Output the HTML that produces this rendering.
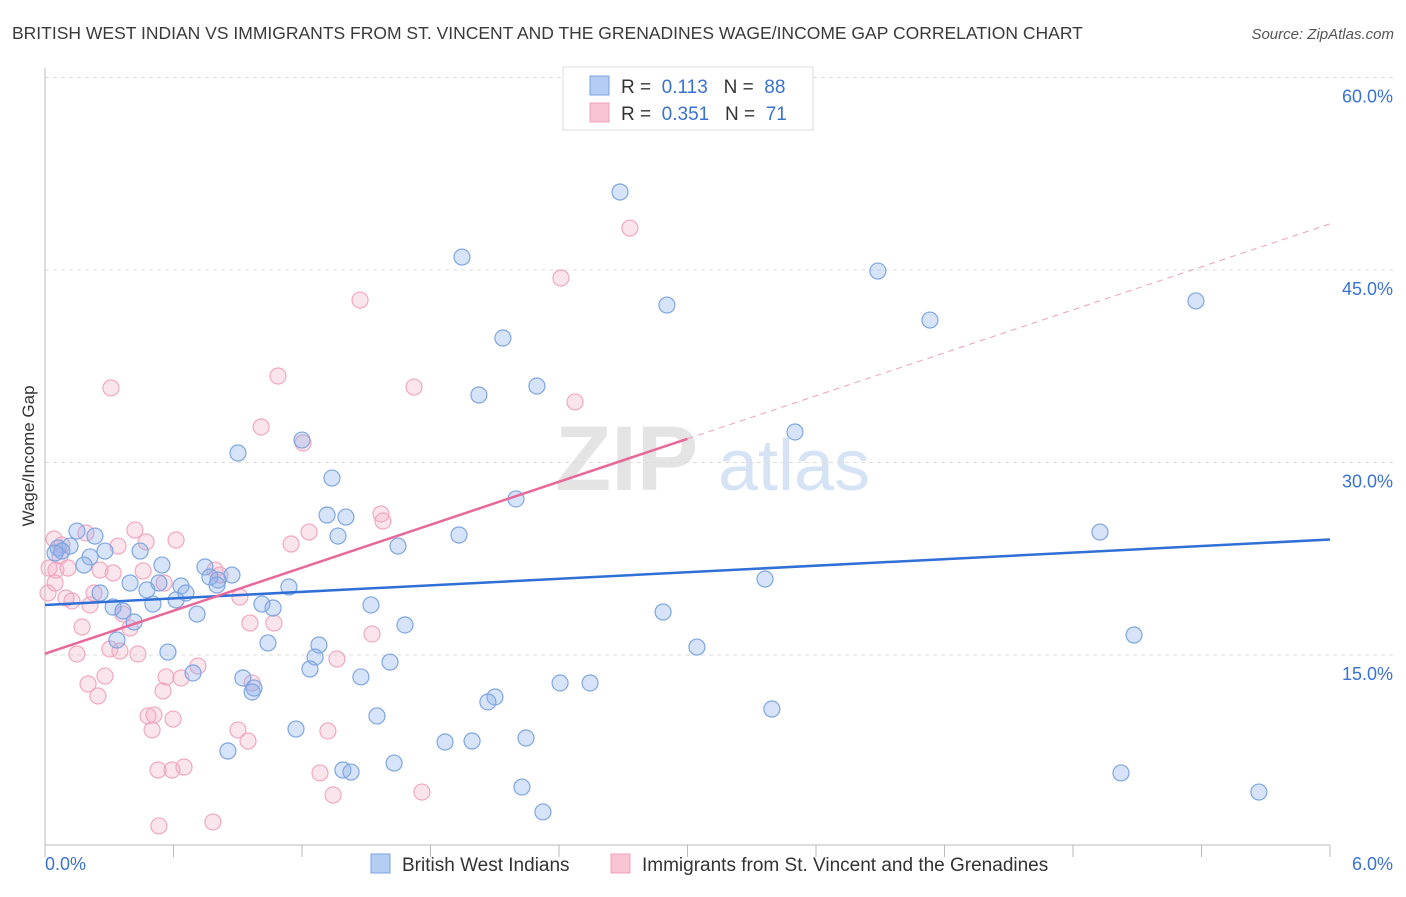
<!DOCTYPE html>
<html><head><meta charset="utf-8"><style>
body{margin:0;background:#fff;font-family:"Liberation Sans",sans-serif;}
svg text{font-family:"Liberation Sans",sans-serif;}
</style></head><body>
<svg id="chart" width="1406" height="892" xmlns="http://www.w3.org/2000/svg">
<text x="12" y="39" font-size="17.5" fill="#3a3a3a">BRITISH WEST INDIAN VS IMMIGRANTS FROM ST. VINCENT AND THE GRENADINES WAGE/INCOME GAP CORRELATION CHART</text>
<text x="1394" y="39" font-size="15" fill="#555" font-style="italic" text-anchor="end">Source: ZipAtlas.com</text>
<g>
<text x="555" y="490" font-size="92" fill="#e4e4e4" font-family="Liberation Serif,serif" font-weight="bold">ZIP</text>
<text x="718" y="490" font-size="72" fill="#d6e3f5">atlas</text>
</g>
<g id="grid"></g>
<g id="axes"></g>
<text transform="translate(34,456) rotate(-90)" font-size="17" fill="#333" text-anchor="middle">Wage/Income Gap</text>
<g id="points"></g>
<g id="lines"></g>
<g>
<rect x="563" y="67" width="250" height="63" fill="#fff" stroke="#ddd"/>
<rect x="590" y="76" width="19" height="19" fill="#b5cdf2" stroke="#7aa3e0"/>
<rect x="590" y="103" width="19" height="19" fill="#f9c5d5" stroke="#f0a0bc"/>
<text x="621" y="93" font-size="19" fill="#333">R = <tspan fill="#3a72d2">&#160;0.113</tspan>&#160;&#160;&#160;N = <tspan fill="#3a72d2">&#160;88</tspan></text>
<text x="621" y="120" font-size="19" fill="#333">R = <tspan fill="#3a72d2">&#160;0.351</tspan>&#160;&#160;&#160;N = <tspan fill="#3a72d2">&#160;71</tspan></text>
</g>
<g>
<rect x="371" y="854" width="19" height="19" fill="#b5cdf2" stroke="#7aa3e0"/>
<text x="402" y="871" font-size="19" fill="#333">British West Indians</text>
<rect x="611" y="854" width="19" height="19" fill="#f9c5d5" stroke="#f0a0bc"/>
<text x="642" y="871" font-size="19" fill="#333">Immigrants from St. Vincent and the Grenadines</text>
</g>
</svg>
<script>
const xTicks=[0,0.6,1.2,1.8,2.4,3.0,3.6,4.2,4.8,5.4,6.0];
const yTicks=[15,30,45,60];
const yTickLabels=["15.0%","30.0%","45.0%","60.0%"];
const xTickLabels=["0.0%","6.0%"];
const blueX=[2.685,1.947,3.889,2.904,4.132,5.374,2.138,2.297,2.026,3.502,0.901,1.200,1.340,2.199,1.317,1.405,1.368,1.933,1.648,4.926,0.149,0.233,0.061,0.117,0.079,0.047,0.210,0.280,0.444,0.182,0.546,0.747,0.873,0.808,0.770,0.397,0.532,0.635,0.658,0.476,0.257,0.803,1.139,0.612,0.504,0.318,0.364,0.710,1.013,1.065,1.522,3.362,2.886,0.416,1.681,5.085,0.336,1.041,1.279,3.044,0.574,1.261,1.237,1.611,0.691,0.924,0.976,0.967,1.475,2.405,2.545,2.101,2.068,1.550,3.394,1.172,0.854,1.868,1.994,2.246,1.630,1.391,1.429,5.024,2.227,5.668,2.325];
const blueY=[51.08,46.01,44.92,42.27,41.10,42.59,39.70,35.96,35.26,32.38,30.74,31.75,28.79,27.16,25.91,25.75,24.27,24.35,23.49,24.58,24.66,24.27,23.34,23.49,23.10,22.95,22.64,23.10,23.10,22.01,22.01,21.86,21.23,20.84,21.08,20.61,20.61,20.38,19.83,20.07,19.83,20.45,20.30,19.29,18.97,18.74,18.43,18.19,18.97,18.66,18.90,20.92,18.35,17.57,17.34,16.56,16.17,15.94,15.78,15.62,15.23,14.84,13.91,14.45,13.60,13.21,12.43,12.12,13.29,12.82,12.82,11.73,11.34,10.25,10.79,9.23,7.52,8.22,8.30,8.53,6.58,6.04,5.88,5.81,4.71,4.32,2.77];
const pinkX=[2.731,2.409,1.471,0.308,1.088,1.723,2.475,1.009,1.205,1.569,1.578,0.420,0.191,0.042,0.472,0.612,0.341,1.149,1.233,0.070,0.019,0.107,0.257,0.318,0.458,0.794,0.817,0.556,0.047,0.014,0.229,0.098,0.126,0.210,0.364,0.910,0.397,0.173,0.957,1.069,1.527,0.303,0.350,0.434,0.149,0.714,1.363,0.280,0.201,0.565,0.635,0.551,0.967,0.247,0.481,0.509,0.598,0.500,0.901,1.321,0.948,0.649,0.528,0.593,1.284,1.345,1.760,0.532,0.784,0.051,0.079];
const pinkY=[48.27,44.38,42.66,35.81,36.74,35.88,34.72,32.77,31.52,25.99,25.44,24.74,24.51,24.04,23.81,23.96,23.49,23.65,24.58,22.71,21.78,21.78,21.62,21.39,21.55,21.62,21.23,20.61,20.61,19.83,19.83,19.44,19.21,18.90,18.19,19.52,17.10,17.18,17.49,17.49,16.64,15.47,15.31,15.08,15.08,14.14,14.69,13.36,12.74,13.29,13.21,12.20,12.82,11.81,10.25,10.33,10.01,9.16,9.16,9.08,8.30,6.27,6.04,6.04,5.81,4.09,4.32,1.68,1.99,21.62,23.57];
const blueTrend=[18.9,24.0];
const pinkTrend=[15.1,48.6];
const pinkSolidEnd=3.0;

const NS="http://www.w3.org/2000/svg";
const X=v=>45+v*(1285/6);
const Y=v=>847.5-v*12.833;
function mk(tag,attrs,parent){const e=document.createElementNS(NS,tag);for(const k in attrs)e.setAttribute(k,attrs[k]);parent.appendChild(e);return e;}
const grid=document.getElementById('grid'),axes=document.getElementById('axes'),pts=document.getElementById('points'),lines=document.getElementById('lines');
yTicks.forEach((t,i)=>{
 const l=mk('line',{x1:45,x2:1395,y1:Y(t),y2:Y(t),stroke:'#ddd','stroke-dasharray':'4,4'},grid);
 
 
 const tx=mk('text',{x:1393,y:Y(t)+25,'font-size':18,fill:'#3a72d2','text-anchor':'end'},axes);
 tx.textContent=yTickLabels[i];
 
 
});
const ax=mk('line',{x1:45,x2:1330,y1:845,y2:845,stroke:'#bbb'},axes);


const ay=mk('line',{x1:45,x2:45,y1:68,y2:845,stroke:'#bbb'},axes);


xTicks.forEach(t=>{
 const l=mk('line',{x1:X(t),x2:X(t),y1:845,y2:857,stroke:'#bbb'},axes);
 
 
});
const xl0=mk('text',{x:45,y:870,'font-size':18,fill:'#3a72d2'},axes);
xl0.textContent=xTickLabels[0];


const xl1=mk('text',{x:1393,y:870,'font-size':18,fill:'#3a72d2','text-anchor':'end'},axes);
xl1.textContent=xTickLabels[1];


pinkX.forEach((v,i)=>{
 const c=mk('circle',{cx:X(v),cy:Y(pinkY[i]),r:8,fill:'rgba(243,170,196,0.3)',stroke:'#f0a8c0','stroke-width':1.2},pts);
 
 
});
blueX.forEach((v,i)=>{
 const c=mk('circle',{cx:X(v),cy:Y(blueY[i]),r:8,fill:'rgba(140,176,235,0.35)',stroke:'#7ea6e2','stroke-width':1.2},pts);
 
 
});
const pAt=x=>pinkTrend[0]+(pinkTrend[1]-pinkTrend[0])*x/6;
const bl=mk('line',{x1:X(0),y1:Y(blueTrend[0]),x2:X(6),y2:Y(blueTrend[1]),stroke:'#2f6fd6','stroke-width':2.5},lines);


const pl=mk('line',{x1:X(0),y1:Y(pinkTrend[0]),x2:X(pinkSolidEnd),y2:Y(pAt(pinkSolidEnd)),stroke:'#e8689a','stroke-width':2.5},lines);


const pd=mk('line',{x1:X(pinkSolidEnd),y1:Y(pAt(pinkSolidEnd)),x2:X(6),y2:Y(pinkTrend[1]),stroke:'#eaa0bb','stroke-width':1,'stroke-dasharray':'6,5'},lines);


</script>
</body></html>
